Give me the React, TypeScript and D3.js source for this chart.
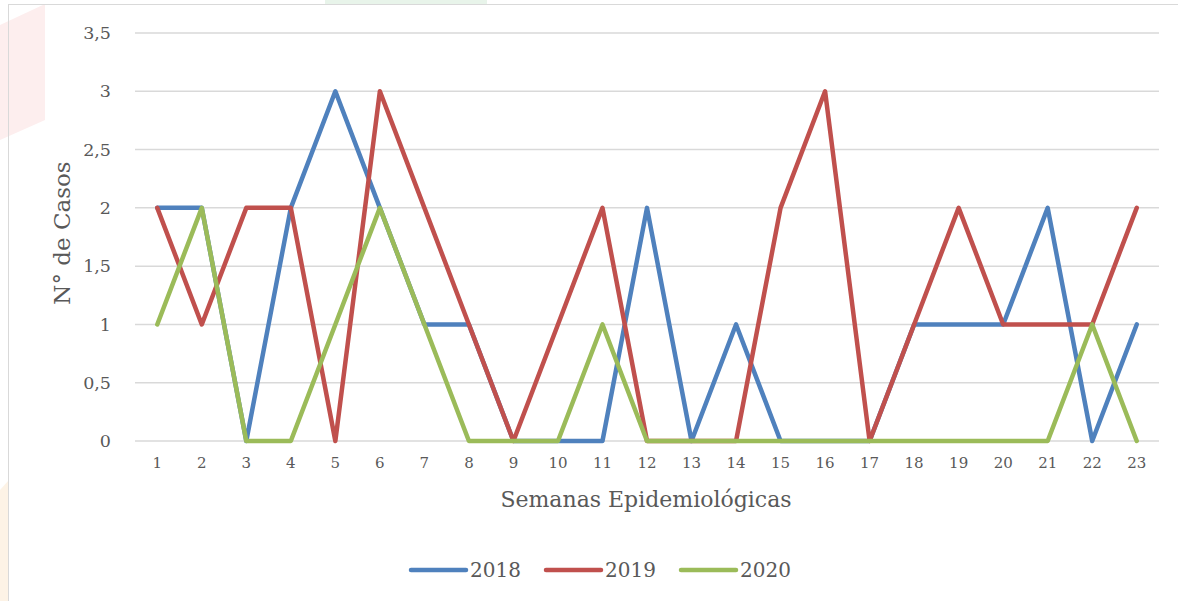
import React from 'react';
import * as d3 from 'd3';

const semanas = d3.range(1, 24);
const casos2018 = [2, 2, 0, 2, 3, 2, 1, 1, 0, 0, 0, 2, 0, 1, 0, 0, 0, 1, 1, 1, 2, 0, 1];
const casos2019 = [2, 1, 2, 2, 0, 3, 2, 1, 0, 1, 2, 0, 0, 0, 2, 3, 0, 1, 2, 1, 1, 1, 2];
const casos2020 = [1, 2, 0, 0, 1, 2, 1, 0, 0, 0, 1, 0, 0, 0, 0, 0, 0, 0, 0, 0, 0, 1, 0];
const yTicks = [0, 0.5, 1, 1.5, 2, 2.5, 3, 3.5];

const series = [
  { name: '2018', values: casos2018, color: '#4F81BD' },
  { name: '2019', values: casos2019, color: '#C0504D' },
  { name: '2020', values: casos2020, color: '#9BBB59' },
];

const width = 1178;
const height = 601;
const margin = { top: 33, right: 19, bottom: 160, left: 135 };
const font = '"DejaVu Serif", serif';
const textColor = '#595959';

const App = () => {
  const x = d3.scalePoint<number>()
    .domain(semanas)
    .range([margin.left, width - margin.right])
    .padding(0.5);

  const y = d3.scaleLinear()
    .domain([0, 3.5])
    .range([height - margin.bottom, margin.top]);

  const line = d3.line<number>()
    .x((d, i) => x(semanas[i]) as number)
    .y(d => y(d));

  const fmt = (v: number) => String(v).replace('.', ',');

  // legend layout
  const legendY = 570;
  const legendStart = 411;
  const legendStep = 135;

  return (
    <svg width={width} height={height} style={{ position: 'absolute', left: 0, top: 0, background: '#fff' }}>
      {/* faint background watermark pieces */}
      <path d="M0,25 L45,4 L45,120 L0,140 Z" fill="#fdeeee" />
      <path d="M0,490 L9,480 L9,601 L0,601 Z" fill="#fdf3e6" />
      <rect x={325} y={0} width={162} height={4} fill="#e8f4ea" />

      {/* chart frame */}
      <rect x={8.5} y={4.5} width={1200} height={620} fill="none" stroke="#d9d9d9" strokeWidth={1} />

      {/* gridlines */}
      <g>
        {yTicks.map(t => (
          <line key={t} x1={margin.left} x2={width - margin.right} y1={y(t)} y2={y(t)}
            stroke="#d9d9d9" strokeWidth={1.5} />
        ))}
      </g>

      {/* y tick labels */}
      <g fontFamily={font} fontSize={17.5} fill={textColor} textAnchor="end">
        {yTicks.map(t => (
          <text key={t} x={111} y={y(t)} dy="0.35em">{fmt(t)}</text>
        ))}
      </g>

      {/* x tick labels */}
      <g fontFamily={font} fontSize={15} fill={textColor} textAnchor="middle">
        {semanas.map(s => (
          <text key={s} x={x(s)} y={468}>{s}</text>
        ))}
      </g>

      {/* axis titles */}
      <text x={646} y={507} fontFamily={font} fontSize={22} fill={textColor} textAnchor="middle">
        Semanas Epidemiológicas
      </text>
      <text transform={`translate(70,${(y(0) + y(3.5)) / 2 - 4}) rotate(-90)`} fontFamily={font} fontSize={23}
        fill={textColor} textAnchor="middle">
        N° de Casos
      </text>

      {/* series lines */}
      <g fill="none" strokeWidth={4.5} strokeLinejoin="round" strokeLinecap="round">
        {series.map(s => (
          <path key={s.name} d={line(s.values) as string} stroke={s.color} />
        ))}
      </g>

      {/* legend */}
      <g fontFamily={font} fontSize={20} fill={textColor}>
        {series.map((s, i) => {
          const lx = legendStart + i * legendStep;
          return (
            <g key={s.name}>
              <line x1={lx} x2={lx + 55} y1={legendY} y2={legendY} stroke={s.color}
                strokeWidth={4.5} strokeLinecap="round" />
              <text x={lx + 59} y={legendY} dy="0.35em">{s.name}</text>
            </g>
          );
        })}
      </g>
    </svg>
  );
};

export default App;
